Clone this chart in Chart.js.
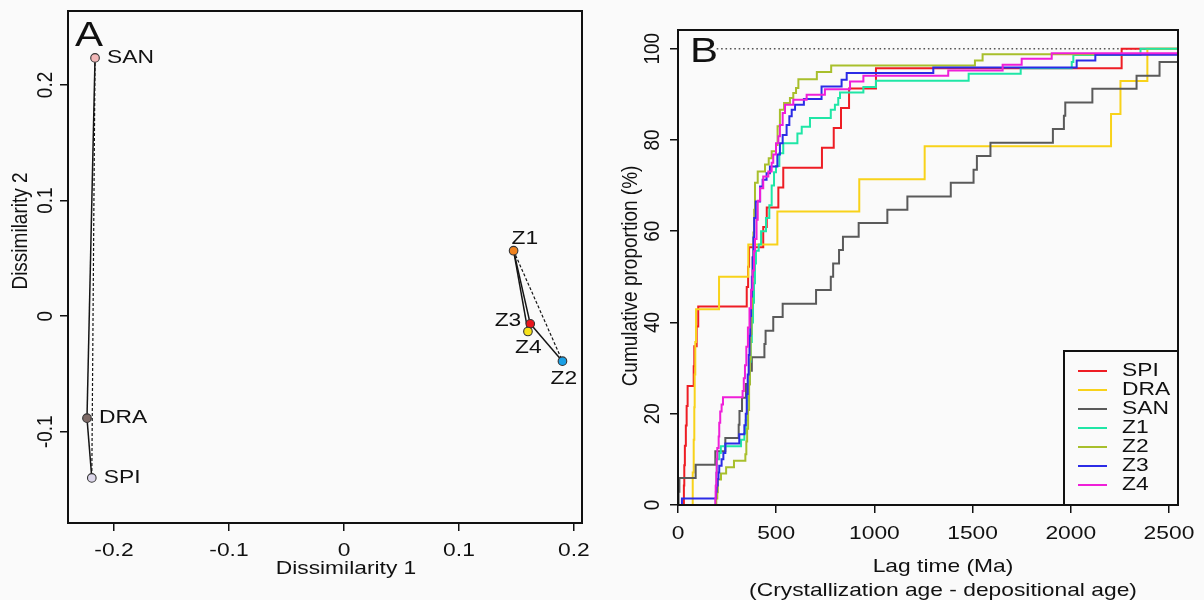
<!DOCTYPE html>
<html>
<head>
<meta charset="utf-8">
<script src="https://cdn.jsdelivr.net/npm/chart.js@4.4.1/dist/chart.umd.min.js"></script>
<style>
  html, body { margin: 0; padding: 0; background: #fafafa; }
  #wrap { position: relative; width: 1204px; height: 600px; }
  canvas { position: absolute; top: 0; }
  #mdsChart { left: 0; }
  #cdfChart { left: 600px; }
</style>
</head>
<body>
<div id="wrap">
  <canvas id="mdsChart" width="600" height="600"></canvas>
  <canvas id="cdfChart" width="604" height="600"></canvas>
</div>
<script>
// ---- panel A: MDS map ----
const sampleNames = ['SAN', 'DRA', 'SPI', 'Z1', 'Z3', 'Z4', 'Z2'];
const dim1 = [-0.2165, -0.2235, -0.2193, 0.1475, 0.162, 0.160, 0.190];
const dim2 = [0.2234, -0.0883, -0.140, 0.0566, -0.0067, -0.0133, -0.039];
const solidLinks = [['SAN', 'DRA'], ['DRA', 'SPI'], ['Z1', 'Z3'], ['Z1', 'Z4'], ['Z3', 'Z2'], ['Z3', 'Z4']];
const dashedLinks = [['SAN', 'SPI'], ['Z1', 'Z2']];
const mdsTicksX = [-0.2, -0.1, 0, 0.1, 0.2];
const mdsTicksY = [-0.1, 0, 0.1, 0.2];

// ---- panel B: cumulative lag-time curves ----
const seriesNames = ['SPI', 'DRA', 'SAN', 'Z1', 'Z2', 'Z3', 'Z4'];
const spiLag = [30, 32, 35, 40, 44, 49, 80, 83, 95, 103, 350, 357, 362, 434, 452, 511, 536, 733, 793, 830, 871, 1008, 2259];
const spiCum = [4.3, 8.7, 13.0, 17.4, 21.7, 26.1, 30.4, 34.8, 39.1, 43.5, 47.8, 52.2, 56.5, 60.9, 65.2, 69.6, 73.9, 78.3, 82.6, 87.0, 91.3, 95.7, 100];
const draLag = [75, 80, 83, 85, 88, 92, 209, 358, 506, 923, 1256, 2205, 2253, 2390];
const draCum = [7.1, 14.3, 21.4, 28.6, 35.7, 42.9, 50.0, 57.1, 64.3, 71.4, 78.6, 85.7, 92.9, 100];
const sanLag = [3, 7, 90, 190, 241, 309, 313, 326, 346, 365, 376, 440, 446, 485, 533, 703, 778, 790, 820, 840, 920, 1066, 1168, 1389, 1505, 1522, 1591, 1909, 1965, 1972, 2110, 2335, 2452];
const sanCum = [2.9, 5.9, 8.8, 11.8, 14.7, 17.6, 20.6, 23.5, 26.5, 29.4, 32.4, 35.3, 38.2, 41.2, 44.1, 47.1, 50.0, 52.9, 55.9, 58.8, 61.8, 64.7, 67.6, 70.6, 73.5, 76.5, 79.4, 82.4, 85.3, 88.2, 91.2, 94.1, 97.1];
const z1Lag = [192, 194, 196, 198, 210, 218, 321, 338, 345, 352, 358, 364, 370, 376, 382, 387, 392, 397, 411, 423, 448, 465, 477, 489, 499, 516, 536, 608, 630, 672, 778, 799, 816, 825, 944, 1008, 1480, 1745, 2005, 2013, 2355];
const z1Cum = [1.4, 4.3, 7.1, 10.0, 11.4, 12.9, 14.3, 15.7, 18.6, 22.9, 27.1, 31.4, 35.7, 40.0, 44.3, 48.6, 52.9, 55.7, 57.1, 60.0, 62.9, 65.7, 70.0, 72.9, 74.3, 77.1, 79.3, 81.4, 82.9, 84.8, 86.6, 87.7, 89.2, 90.4, 91.6, 93.0, 94.5, 95.7, 97.1, 98.6, 100];
const z2Lag = [195, 200, 203, 219, 245, 285, 343, 348, 352, 357, 362, 366, 370, 374, 377, 380, 384, 388, 392, 406, 443, 462, 477, 499, 507, 519, 540, 570, 587, 601, 613, 707, 780, 1512, 1551];
const z2Cum = [1.4, 2.8, 5.6, 6.9, 8.3, 9.7, 11.1, 13.9, 16.7, 20.8, 26.4, 31.9, 37.5, 43.1, 48.6, 54.2, 59.7, 64.7, 70.6, 73.1, 74.6, 76.0, 77.5, 78.9, 83.0, 86.6, 88.1, 89.2, 90.3, 91.4, 93.3, 94.9, 96.3, 97.4, 98.8];
const z3Lag = [20, 193, 197, 202, 206, 210, 222, 231, 241, 312, 338, 345, 350, 355, 360, 364, 368, 372, 376, 380, 384, 388, 396, 418, 431, 451, 468, 506, 519, 533, 553, 567, 579, 596, 641, 731, 833, 859, 1300, 2030, 2125];
const z3Cum = [1.4, 2.9, 4.3, 5.7, 7.1, 8.6, 10.0, 11.4, 13.5, 15.5, 17.5, 20.0, 24.3, 28.6, 32.9, 37.1, 41.4, 45.7, 50.0, 54.3, 58.6, 62.9, 66.5, 69.8, 71.3, 72.7, 74.2, 76.8, 79.3, 81.1, 83.3, 85.2, 86.6, 87.7, 89.0, 91.7, 93.2, 94.7, 95.9, 97.4, 98.7];
const z4Lag = [190, 192, 195, 197, 200, 207, 210, 215, 222, 229, 329, 335, 341, 348, 356, 364, 372, 380, 387, 392, 400, 406, 418, 434, 460, 477, 485, 499, 511, 519, 533, 545, 587, 655, 748, 876, 944, 1376, 1653, 1750, 1903];
const z4Cum = [1.4, 4.2, 7.0, 10.0, 12.5, 15.0, 18.0, 20.5, 22.0, 23.6, 25.0, 27.8, 30.6, 34.7, 38.9, 43.1, 47.2, 51.4, 55.6, 58.3, 62.5, 66.7, 69.4, 72.0, 73.1, 75.0, 76.8, 79.3, 80.8, 83.3, 85.9, 87.7, 88.8, 89.9, 91.1, 92.8, 94.1, 95.2, 96.5, 97.8, 99.0];
const lagTicks = [0, 500, 1000, 1500, 2000, 2500];
const cumTicks = [0, 20, 40, 60, 80, 100];
const refLevel = 100;
const refStart = 197;

// styles
const sampleColors = ['#f2b8b8', '#7d6a66', '#dcd6ea', '#f0821e', '#e8161e', '#f7e21a', '#1aa0e6'];
const seriesColors = ['#ee1d24', '#f8d21a', '#5a5a5a', '#1fe6a6', '#a8bf2c', '#2b2be6', '#ef1fd8'];
const labelPlacement = {
  SAN: [12, 0, 'left'], DRA: [12, 0, 'left'], SPI: [12, 0, 'left'],
  Z1: [-2, -12, 'left'], Z3: [-9, -3, 'right'], Z4: [-13, 16, 'left'], Z2: [-12, 18, 'left']
};

const FONT = '"Liberation Sans", Arial, sans-serif';
const STRETCH = 1.2;

function drawText(ctx, text, x, y, o) {
  o = o || {};
  ctx.save();
  ctx.font = (o.size || 19) + 'px ' + FONT;
  ctx.fillStyle = o.color || '#111';
  ctx.textAlign = o.align || 'center';
  ctx.textBaseline = o.baseline || 'middle';
  ctx.translate(x, y);
  ctx.scale(STRETCH, 1);
  if (o.rotate) ctx.rotate(-Math.PI / 2);
  ctx.fillText(text, 0, 0);
  ctx.restore();
}

function axisOpts(min, max, ticks, size, isX) {
  return {
    type: 'linear',
    min: min,
    max: max,
    afterBuildTicks: function(axis) { axis.ticks = ticks.map(v => ({ value: v })); },
    afterFit: function(axis) { if (isX) axis.height = size; else axis.width = size; },
    ticks: { display: false },
    border: { display: false },
    grid: { drawOnChartArea: false, drawTicks: true, tickLength: 8, color: '#111', lineWidth: 1.5 }
  };
}

// frame, tick labels and titles
function framePlugin(o) {
  return {
    id: 'frame',
    afterDraw: function(chart) {
      const ctx = chart.ctx, a = chart.chartArea;
      const sx = chart.scales.x, sy = chart.scales.y;
      ctx.save();
      ctx.strokeStyle = '#111';
      ctx.lineWidth = 2;
      ctx.strokeRect(a.left, a.top, a.right - a.left, a.bottom - a.top);
      ctx.restore();
      o.xTicks.forEach(v => drawText(ctx, String(v), sx.getPixelForValue(v), a.bottom + o.xGap));
      o.yTicks.forEach(v => drawText(ctx, String(v), a.left - o.yGap, sy.getPixelForValue(v), { rotate: true }));
      o.texts.forEach(t => drawText(ctx, t.text, a.left + t.dx, t.y, t));
      if (o.extra) o.extra(chart);
    }
  };
}

Chart.defaults.animation = false;
Chart.defaults.plugins.legend.display = false;
Chart.defaults.plugins.tooltip.enabled = false;

// ---------- chart A ----------
function pairData(pair) {
  const i = sampleNames.indexOf(pair[0]);
  const j = sampleNames.indexOf(pair[1]);
  return [{ x: dim1[i], y: dim2[i] }, { x: dim1[j], y: dim2[j] }];
}

const mdsDatasets = [{
  data: sampleNames.map((n, i) => ({ x: dim1[i], y: dim2[i] })),
  pointRadius: 4.3,
  pointBackgroundColor: sampleColors,
  pointBorderColor: '#333',
  pointBorderWidth: 1.1,
  showLine: false,
  order: 0
}];
solidLinks.forEach(p => mdsDatasets.push({
  data: pairData(p), showLine: true, borderColor: '#151515', borderWidth: 1.5, pointRadius: 0, order: 1
}));
dashedLinks.forEach(p => mdsDatasets.push({
  data: pairData(p), showLine: true, borderColor: '#151515', borderWidth: 1.2, borderDash: [3, 2], pointRadius: 0, order: 1
}));

new Chart(document.getElementById('mdsChart'), {
  type: 'scatter',
  data: { datasets: mdsDatasets },
  options: {
    responsive: false,
    devicePixelRatio: 1,
    layout: { padding: { left: 0, right: 18, top: 11, bottom: 0 } },
    scales: {
      x: axisOpts(-0.24, 0.207, mdsTicksX, 77, true),
      y: axisOpts(-0.179, 0.264, mdsTicksY, 68, false)
    }
  },
  plugins: [framePlugin({
    xTicks: mdsTicksX, yTicks: mdsTicksY, xGap: 28, yGap: 22,
    texts: [
      { text: 'Dissimilarity 1', dx: 278, y: 569 },
      { text: 'Dissimilarity 2', dx: -47, y: 231, rotate: true },
      { text: 'A', dx: 7, y: 46, size: 35, align: 'left', baseline: 'alphabetic' }
    ],
    extra: function(chart) {
      const pts = chart.getDatasetMeta(0).data;
      sampleNames.forEach((n, i) => {
        const p = labelPlacement[n];
        drawText(chart.ctx, n, pts[i].x + p[0], pts[i].y + p[1], { align: p[2] });
      });
    }
  })]
});

// ---------- chart B ----------
const lagSeries = [spiLag, draLag, sanLag, z1Lag, z2Lag, z3Lag, z4Lag];
const cumSeries = [spiCum, draCum, sanCum, z1Cum, z2Cum, z3Cum, z4Cum];
const lagMin = 0, lagMax = 2546;

const cdfDatasets = seriesNames.map((name, k) => {
  const pts = [{ x: lagMin, y: 0 }];
  lagSeries[k].forEach((v, i) => pts.push({ x: v, y: cumSeries[k][i] }));
  pts.push({ x: lagMax, y: cumSeries[k][cumSeries[k].length - 1] });
  return {
    label: name,
    data: pts,
    showLine: true,
    stepped: true,
    borderColor: seriesColors[k],
    borderWidth: 2,
    pointRadius: 0,
    order: seriesNames.length - k
  };
});
cdfDatasets.push({
  label: '',
  data: [{ x: refStart, y: refLevel }, { x: lagMax, y: refLevel }],
  showLine: true,
  borderColor: '#555',
  borderWidth: 1.6,
  borderDash: [1.6, 2.8],
  pointRadius: 0,
  order: 50
});

new Chart(document.getElementById('cdfChart'), {
  type: 'scatter',
  data: { datasets: cdfDatasets },
  options: {
    responsive: false,
    devicePixelRatio: 1,
    layout: { padding: { left: 0, right: 26, top: 30, bottom: 0 } },
    scales: {
      x: axisOpts(lagMin, lagMax, lagTicks, 95, true),
      y: axisOpts(0, 104.1, cumTicks, 78, false)
    }
  },
  plugins: [framePlugin({
    xTicks: lagTicks, yTicks: cumTicks, xGap: 29, yGap: 25,
    texts: [
      { text: 'Lag time (Ma)', dx: 265, y: 567 },
      { text: '(Crystallization age - depositional age)', dx: 265, y: 591 },
      { text: 'Cumulative proportion (%)', dx: -47, y: 276, rotate: true },
      { text: 'B', dx: 12, y: 62, size: 35, align: 'left', baseline: 'alphabetic' }
    ],
    extra: function(chart) {
      const ctx = chart.ctx, a = chart.chartArea;
      const boxLeft = a.right - 114, boxTop = a.bottom - 154;
      ctx.save();
      ctx.fillStyle = '#fafafa';
      ctx.fillRect(boxLeft, boxTop, a.right - boxLeft, a.bottom - boxTop);
      ctx.strokeStyle = '#111';
      ctx.lineWidth = 2;
      ctx.strokeRect(boxLeft, boxTop, a.right - boxLeft, a.bottom - boxTop);
      seriesNames.forEach((n, k) => {
        const y = boxTop + 20 + k * 19;
        ctx.strokeStyle = seriesColors[k];
        ctx.lineWidth = 2;
        ctx.beginPath();
        ctx.moveTo(boxLeft + 14, y);
        ctx.lineTo(boxLeft + 43, y);
        ctx.stroke();
        drawText(ctx, n, boxLeft + 58, y, { align: 'left' });
      });
      ctx.restore();
    }
  })]
});
</script>
</body>
</html>
